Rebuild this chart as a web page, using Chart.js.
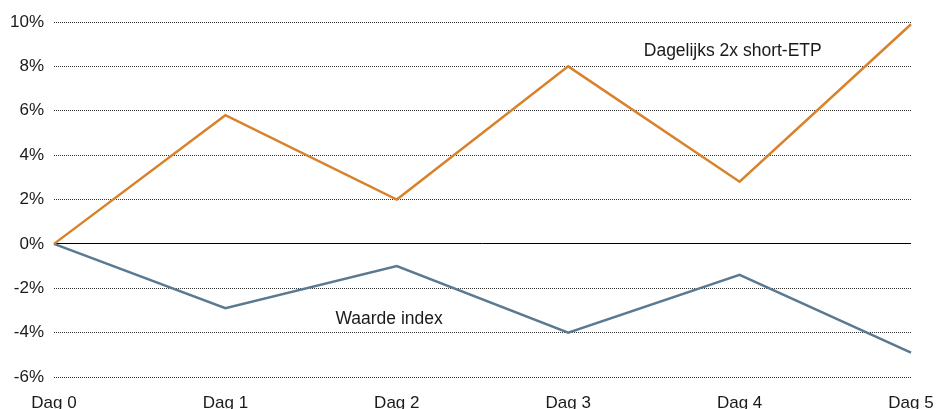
<!DOCTYPE html>
<html>
<head>
<meta charset="utf-8">
<script src="https://cdn.jsdelivr.net/npm/chart.js@4/dist/chart.umd.min.js"></script>
<style>
  html, body { margin: 0; padding: 0; background: #fff; }
  #wrap { width: 936px; height: 409px; }
</style>
</head>
<body>
<div id="wrap"><canvas id="c" width="936" height="409"></canvas></div>
<script>
// Days on the horizontal axis
const days = ['Dag 0', 'Dag 1', 'Dag 2', 'Dag 3', 'Dag 4', 'Dag 5'];
// Cumulative return (%) of the daily 2x short ETP
const shortEtp = [0, 5.8, 2.0, 8.0, 2.8, 9.9];
// Cumulative return (%) of the index itself
const indexValue = [0, -2.9, -1.0, -4.0, -1.4, -4.9];
// Vertical axis range and step (%)
const yMin = -6, yMax = 10, yStep = 2;
// Series captions written inside the plot: [text, x position (day), y position (%)]
const captions = [
  ['Dagelijks 2x short-ETP', 3.96, 8.7],
  ['Waarde index', 1.955, -3.4]
];

const FONT = '"Liberation Sans", Arial, sans-serif';

const captionPlugin = {
  id: 'captions',
  afterDatasetsDraw(chart) {
    const { ctx, scales: { x, y } } = chart;
    ctx.save();
    ctx.font = '17.5px ' + FONT;
    ctx.fillStyle = '#1a1a1a';
    ctx.textAlign = 'center';
    ctx.textBaseline = 'middle';
    captions.forEach(([text, dx, vy]) => {
      ctx.fillText(text, x.getPixelForValue(dx), y.getPixelForValue(vy));
    });
    ctx.restore();
  }
};

new Chart(document.getElementById('c'), {
  type: 'line',
  data: {
    labels: days,
    datasets: [
      {
        label: 'Dagelijks 2x short-ETP',
        data: shortEtp,
        borderColor: '#d8822b',
        borderWidth: 2.5,
        pointRadius: 0,
        tension: 0,
        fill: false
      },
      {
        label: 'Waarde index',
        data: indexValue,
        borderColor: '#5b7a91',
        borderWidth: 2.5,
        pointRadius: 0,
        tension: 0,
        fill: false
      }
    ]
  },
  options: {
    responsive: false,
    animation: false,
    layout: { padding: { left: 0, right: 25, top: 22, bottom: 0 } },
    plugins: {
      legend: { display: false },
      tooltip: { enabled: false }
    },
    scales: {
      x: {
        type: 'category',
        offset: false,
        grid: { display: false, drawTicks: false },
        border: { display: false },
        ticks: {
          color: '#1a1a1a',
          font: { family: FONT, size: 17 },
          maxRotation: 0,
          autoSkip: false,
          padding: 16
        },
        afterFit(scale) {
          scale.height = 32;
          scale.paddingLeft = 0;
          scale.paddingRight = 0;
        }
      },
      y: {
        min: yMin,
        max: yMax,
        grid: {
          drawTicks: false,
          lineWidth: 1,
          color: ctx => ctx.tick && ctx.tick.value === 0 ? '#000000' : '#333333'
        },
        border: {
          display: false,
          dash: ctx => ctx.tick && ctx.tick.value === 0 ? [] : [1, 1]
        },
        ticks: {
          stepSize: yStep,
          color: '#1a1a1a',
          font: { family: FONT, size: 17 },
          padding: 10,
          callback: v => v + '%'
        },
        afterFit(scale) {
          scale.width = 54;
          scale.paddingTop = 0;
          scale.paddingBottom = 0;
        }
      }
    }
  },
  plugins: [captionPlugin]
});
</script>
</body>
</html>
